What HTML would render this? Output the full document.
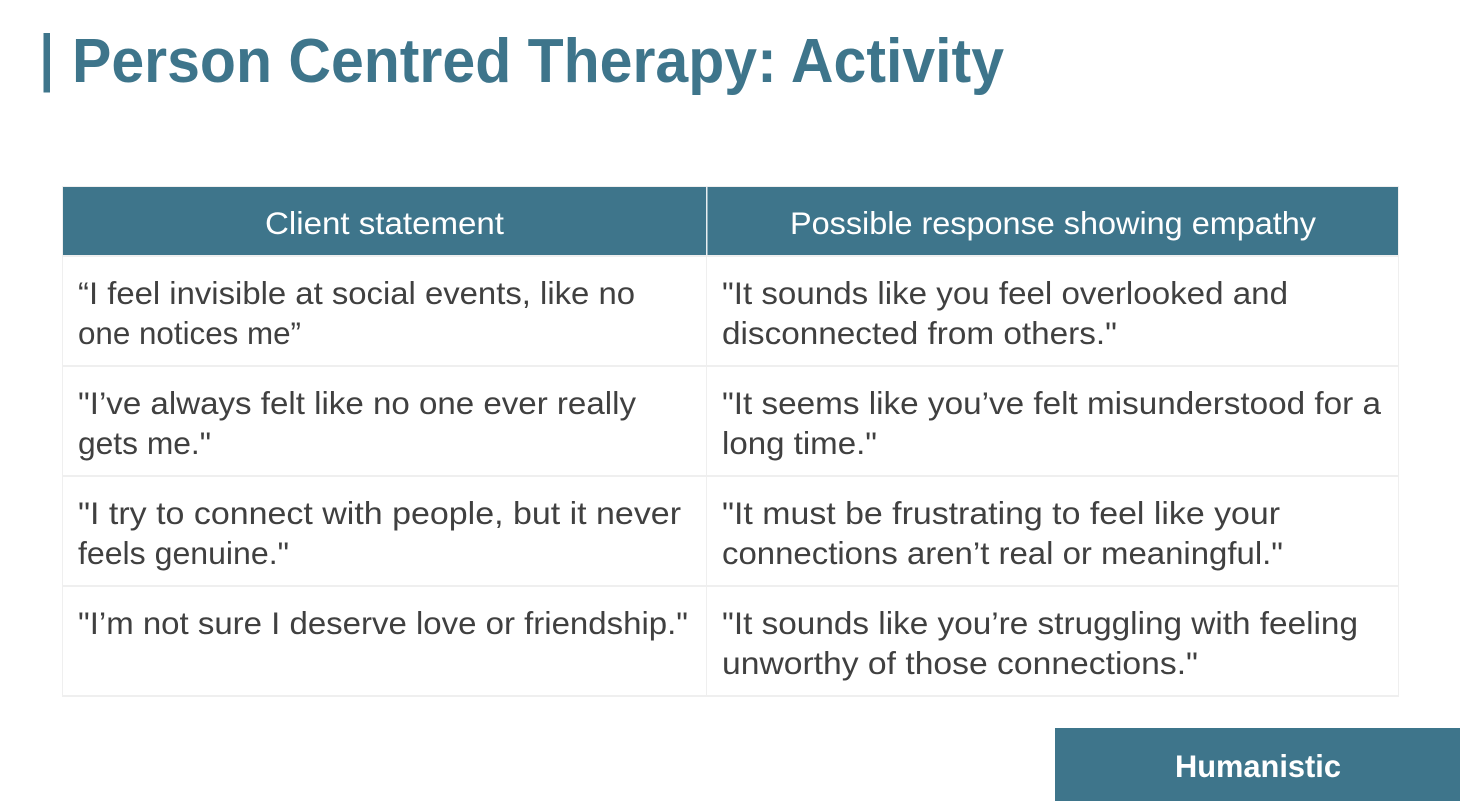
<!DOCTYPE html>
<html lang="en">
<head>
<meta charset="utf-8">
<title>Person Centred Therapy: Activity</title>
<style>
html,body{margin:0;padding:0;background:#fff;width:1460px;height:805px;overflow:hidden}
svg{display:block}
text{font-family:"Liberation Sans",Arial,sans-serif}
.b{font-size:31.5px;fill:#404040}
.h{font-size:31.5px;fill:#fff}
</style>
</head>
<body>
<svg xmlns="http://www.w3.org/2000/svg" width="1460" height="805" viewBox="0 0 1460 805">
<rect width="1460" height="805" fill="#fff"/>
<rect x="43.5" y="33" width="6.5" height="59.5" fill="#3e758b"/>
<text x="72" y="82" font-size="62" font-weight="700" fill="#3e758b" textLength="932" lengthAdjust="spacingAndGlyphs">Person Centred Therapy: Activity</text>

<rect x="63" y="187" width="1335" height="68" fill="#3e758b"/>
<g fill="#efefef">
<rect x="62" y="186" width="1337" height="1"/>
<rect x="62" y="186" width="1" height="511"/>
<rect x="1398" y="186" width="1" height="511"/>
<rect x="62" y="255" width="1337" height="2"/>
<rect x="62" y="365" width="1337" height="2"/>
<rect x="62" y="475" width="1337" height="2"/>
<rect x="62" y="585" width="1337" height="2"/>
<rect x="62" y="695" width="1337" height="2"/>
<rect x="706" y="255" width="1" height="442"/>
</g>
<rect x="706" y="187" width="1.5" height="68" fill="#e8eef1"/>

<text class="h" x="265" y="234" textLength="239" lengthAdjust="spacingAndGlyphs">Client statement</text>
<text class="h" x="790" y="234" textLength="526" lengthAdjust="spacingAndGlyphs">Possible response showing empathy</text>

<text class="b" x="78" y="304" textLength="557" lengthAdjust="spacingAndGlyphs">“I feel invisible at social events, like no</text>
<text class="b" x="78" y="344" textLength="223" lengthAdjust="spacingAndGlyphs">one notices me”</text>
<text class="b" x="78" y="414" textLength="558" lengthAdjust="spacingAndGlyphs">"I’ve always felt like no one ever really</text>
<text class="b" x="78" y="454" textLength="133" lengthAdjust="spacingAndGlyphs">gets me."</text>
<text class="b" x="78" y="524" textLength="603" lengthAdjust="spacingAndGlyphs">"I try to connect with people, but it never</text>
<text class="b" x="78" y="564" textLength="211" lengthAdjust="spacingAndGlyphs">feels genuine."</text>
<text class="b" x="78" y="634" textLength="610" lengthAdjust="spacingAndGlyphs">"I’m not sure I deserve love or friendship."</text>

<text class="b" x="722" y="304" textLength="566" lengthAdjust="spacingAndGlyphs">"It sounds like you feel overlooked and</text>
<text class="b" x="722" y="344" textLength="395" lengthAdjust="spacingAndGlyphs">disconnected from others."</text>
<text class="b" x="722" y="414" textLength="659" lengthAdjust="spacingAndGlyphs">"It seems like you’ve felt misunderstood for a</text>
<text class="b" x="722" y="454" textLength="155" lengthAdjust="spacingAndGlyphs">long time."</text>
<text class="b" x="722" y="524" textLength="558" lengthAdjust="spacingAndGlyphs">"It must be frustrating to feel like your</text>
<text class="b" x="722" y="564" textLength="561" lengthAdjust="spacingAndGlyphs">connections aren’t real or meaningful."</text>
<text class="b" x="722" y="634" textLength="636" lengthAdjust="spacingAndGlyphs">"It sounds like you’re struggling with feeling</text>
<text class="b" x="722" y="674" textLength="476" lengthAdjust="spacingAndGlyphs">unworthy of those connections."</text>

<rect x="1055" y="728" width="405" height="73" fill="#3e758b"/>
<text x="1175" y="777" font-size="31.5" font-weight="700" fill="#fff" textLength="166" lengthAdjust="spacingAndGlyphs">Humanistic</text>
</svg>
</body>
</html>
